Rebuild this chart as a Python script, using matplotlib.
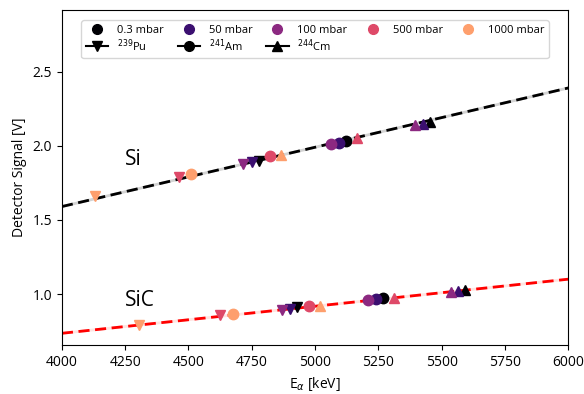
import matplotlib.pyplot as plt
from matplotlib.lines import Line2D

plt.rcParams['font.family'] = ['Open Sans', 'DejaVu Sans']

pressures = ["0.3 mbar", "50 mbar", "100 mbar", "500 mbar", "1000 mbar"]
colors = ["#000004", "#3b0f70", "#8c2981", "#de4968", "#fe9f6d"]
sources = ["$^{239}$Pu", "$^{241}$Am", "$^{244}$Cm"]
markers = ["v", "o", "^"]

# energies [keV] and signals [V], order: 0.3, 50, 100, 500, 1000 mbar
si_E = {
    "Pu": [4780, 4750, 4714, 4462, 4130],
    "Am": [5123, 5095, 5063, 4822, 4508],
    "Cm": [5455, 5425, 5395, 5165, 4866],
}
si_V = {
    "Pu": [1.90, 1.89, 1.88, 1.79, 1.66],
    "Am": [2.03, 2.02, 2.01, 1.93, 1.81],
    "Cm": [2.16, 2.15, 2.14, 2.05, 1.94],
}
sic_E = {
    "Pu": [4930, 4901, 4868, 4624, 4305],
    "Am": [5270, 5241, 5211, 4976, 4675],
    "Cm": [5594, 5566, 5536, 5312, 5020],
}
sic_V = {
    "Pu": [0.91, 0.90, 0.89, 0.855, 0.79],
    "Am": [0.97, 0.965, 0.96, 0.92, 0.865],
    "Cm": [1.025, 1.02, 1.015, 0.975, 0.92],
}

# linear fits
fit_E = [4000, 6000]
si_fit = [1.59, 2.39]
sic_fit = [0.735, 1.10]

fig, ax = plt.subplots(figsize=(5.84, 3.94), dpi=100)
plt.subplots_adjust(left=0.106, right=0.973, top=0.975, bottom=0.124)

ax.plot(fit_E, si_fit, color="lightgray", lw=2, zorder=1)
ax.plot(fit_E, si_fit, color="black", lw=2, ls=(0, (4, 2)), zorder=2)
ax.plot(fit_E, sic_fit, color="mistyrose", lw=2, zorder=1)
ax.plot(fit_E, sic_fit, color="red", lw=2, ls=(0, (4, 2)), zorder=2)

for (src, m) in zip(["Pu", "Am", "Cm"], markers):
    for i in range(len(pressures)):
        ax.plot(si_E[src][i], si_V[src][i], marker=m, color=colors[i], ms=7.5, ls="none", zorder=3)
        ax.plot(sic_E[src][i], sic_V[src][i], marker=m, color=colors[i], ms=7.5, ls="none", zorder=3)

ax.text(4250, 1.87, "Si", fontsize=15)
ax.text(4250, 0.92, "SiC", fontsize=15)

ax.set_xlim(4000, 6000)
ax.set_ylim(0.655, 2.917)
ax.set_yticks([1.0, 1.5, 2.0, 2.5])
ax.set_xlabel(r"E$_\alpha$ [keV]")
ax.set_ylabel("Detector Signal [V]")

p_handles = [Line2D([], [], marker="o", color=c, ls="none", ms=7) for c in colors]
s_handles = [Line2D([], [], marker=m, color="black", ms=7) for m in markers]
# column-wise fill so that pressures form the first row
handles = [p_handles[0], s_handles[0], p_handles[1], s_handles[1],
           p_handles[2], s_handles[2], p_handles[3], p_handles[4]]
labels = [pressures[0], sources[0], pressures[1], sources[1],
          pressures[2], sources[2], pressures[3], pressures[4]]
ax.legend(handles, labels, loc="upper center", ncol=5, fontsize=8,
          handlelength=2, columnspacing=1.25, labelspacing=0.1,
          bbox_to_anchor=(0.5, 0.985))

plt.savefig("out.png")
